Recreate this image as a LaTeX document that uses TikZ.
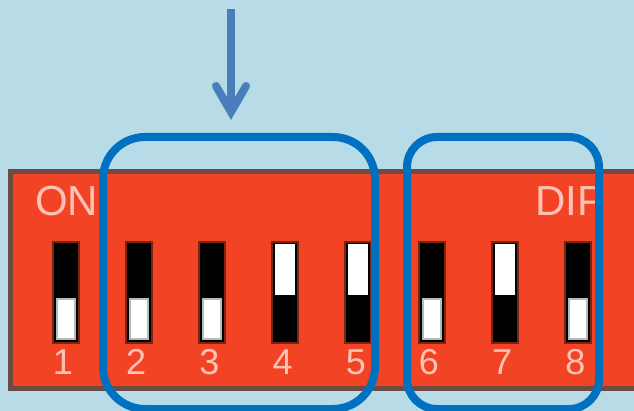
\documentclass[tikz,border=0pt]{standalone}
\usepackage{fontspec}
\setmainfont{Liberation Sans}
\usetikzlibrary{arrows.meta, positioning}
\definecolor{skybg}{HTML}{B7DCE8}
\definecolor{boardred}{HTML}{F24424}
\definecolor{boardedge}{HTML}{6E4C44}
\definecolor{slotedge}{HTML}{7A2413}
\definecolor{ringblue}{HTML}{0070C0}
\definecolor{arrowblue}{HTML}{4A7EBB}
\definecolor{printpink}{HTML}{FFC2B4}

\begin{document}
\begin{tikzpicture}[x=1pt, y=-1pt,
        board/.style = {
            rectangle,
            draw=boardedge,
            fill=boardred,
            line width=5pt,
            inner sep=0pt,
            minimum width=640pt,
            minimum height=217pt
        },
        slot/.style = {
            rectangle,
            draw=slotedge,
            fill=black,
            line width=2pt,
            inner sep=0pt,
            minimum width=26pt,
            minimum height=100pt
        },
        lowknob/.style = {
            rectangle,
            draw=gray!55,
            fill=white,
            line width=2pt,
            inner sep=0pt,
            minimum width=18pt,
            minimum height=40pt
        },
        highknob/.style = {
            rectangle,
            fill=white,
            inner sep=0pt,
            minimum width=20pt,
            minimum height=51pt
        },
        digit/.style = {
            text=printpink,
            font=\fontsize{36}{36}\selectfont,
            inner sep=0pt,
            below=6pt,
            xshift=-2.5pt
        },
        print/.style = {
            text=printpink,
            font=\fontsize{42}{42}\selectfont,
            inner sep=0pt,
            anchor=base west
        },
        ring/.style = {
            rectangle,
            draw=ringblue,
            line width=8pt,
            inner sep=0pt
        }  ]

        \path[use as bounding box, clip] (0,0) rectangle (634,411);
        \fill[skybg] (0,0) rectangle (634,411);

        \node (pcb) [board, anchor=north west] at (8,169) {};

        \node (on_label) [print] at (35,215.5) {ON};
        \node (dip_label) [print] at (535,215.5) {DIP};

        \node (sw1) [slot] at (65.5,292.5) {};
        \node (sw2) [slot, right=45.2pt of sw1] {};
        \node (sw3) [slot, right=45.2pt of sw2] {};
        \node (sw4) [slot, right=45.2pt of sw3] {};
        \node (sw5) [slot, right=45.2pt of sw4] {};
        \node (sw6) [slot, right=45.2pt of sw5] {};
        \node (sw7) [slot, right=45.2pt of sw6] {};
        \node (sw8) [slot, right=45.2pt of sw7] {};

        \node (knob1) [lowknob, above=3.5pt of sw1.south] {};
        \node (knob2) [lowknob, above=3.5pt of sw2.south] {};
        \node (knob3) [lowknob, above=3.5pt of sw3.south] {};
        \node (knob4) [highknob, below=2pt of sw4.north] {};
        \node (knob5) [highknob, below=2pt of sw5.north] {};
        \node (knob6) [lowknob, above=3.5pt of sw6.south] {};
        \node (knob7) [highknob, below=2pt of sw7.north] {};
        \node (knob8) [lowknob, above=3.5pt of sw8.south] {};

        \node (num1) [digit, at=(sw1.south)] {1};
        \node (num2) [digit, at=(sw2.south)] {2};
        \node (num3) [digit, at=(sw3.south)] {3};
        \node (num4) [digit, at=(sw4.south)] {4};
        \node (num5) [digit, at=(sw5.south)] {5};
        \node (num6) [digit, at=(sw6.south)] {6};
        \node (num7) [digit, at=(sw7.south)] {7};
        \node (num8) [digit, at=(sw8.south)] {8};

        \node (group_a) [ring, rounded corners=42pt, minimum width=272pt, minimum height=272pt] at (239,273) {};
        \node (group_b) [ring, rounded corners=30pt, minimum width=192pt, minimum height=272pt] at (503,273) {};

        \coordinate (pointer_start) at (231,9);
        \coordinate (pointer_end) at (231,120);
        \draw[-{Straight Barb[length=26pt, width=30pt, line cap=round, line join=miter]}, draw=arrowblue, line width=8pt] (pointer_start) -- (pointer_end);
    \end{tikzpicture}
\end{document}
